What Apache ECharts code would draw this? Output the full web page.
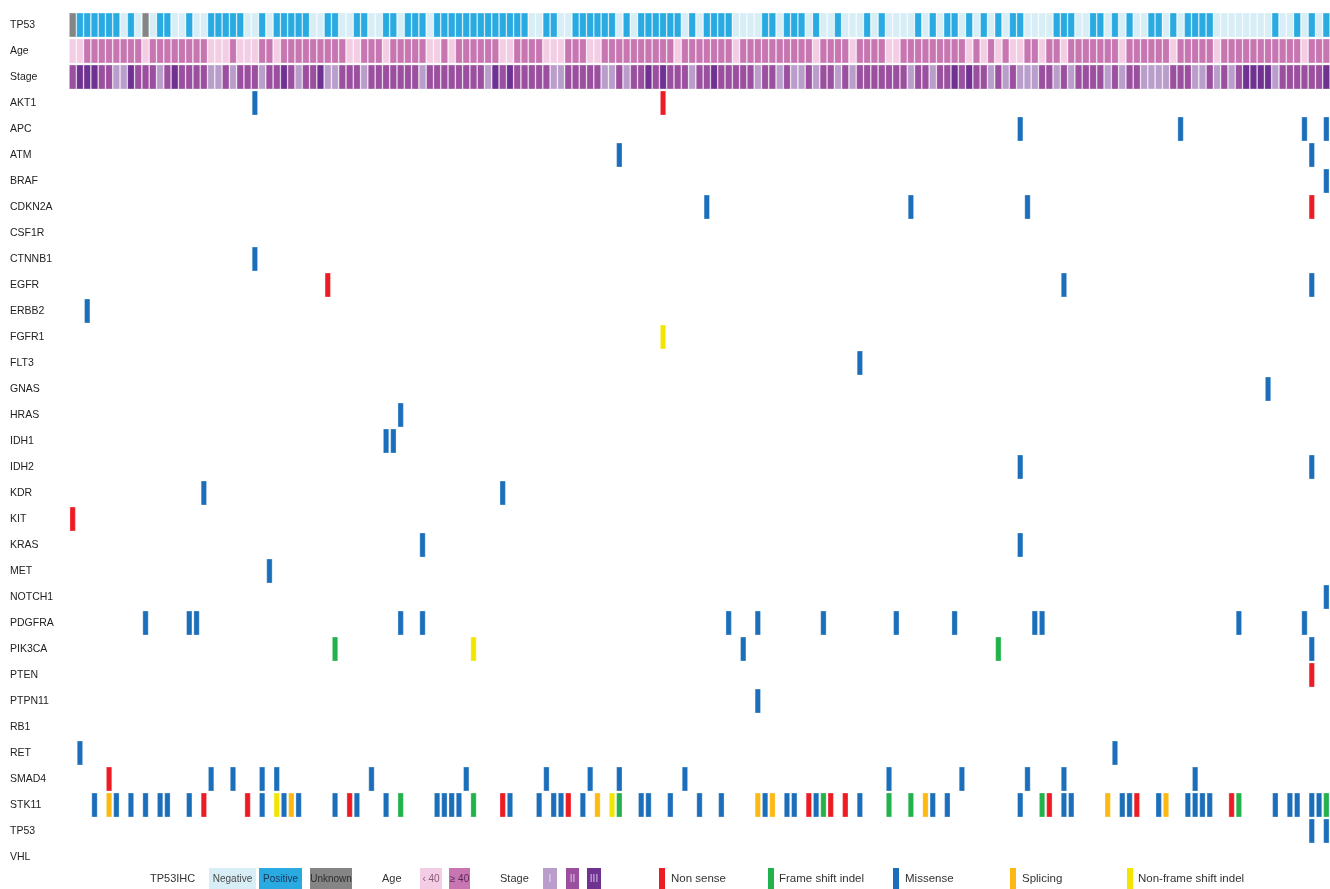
<!DOCTYPE html>
<html><head><meta charset="utf-8">
<script src="https://cdn.jsdelivr.net/npm/echarts@6/dist/echarts.min.js"></script>
<style>html,body{margin:0;padding:0;background:#fff}#c{width:1330px;height:889px}</style>
</head><body><div id="c"></div>
<script>
// ---------- DATA ----------
const rowLabels = ['TP53','Age','Stage','AKT1','APC','ATM','BRAF','CDKN2A','CSF1R','CTNNB1','EGFR','ERBB2','FGFR1','FLT3','GNAS','HRAS','IDH1','IDH2','KDR','KIT','KRAS','MET','NOTCH1','PDGFRA','PIK3CA','PTEN','PTPN11','RB1','RET','SMAD4','STK11','TP53 ','VHL'];
// TP53 IHC: 0 Negative, 1 Positive, 2 Unknown
const tp53ihc = [
2,1,1,1,1,1,1,0,1,0, 2,0,1,1,0,0,1,0,0,1, 1,1,1,1,0,0,1,0,1,1, 1,1,1,0,0,1,1,0,0,1,
1,0,0,1,1,0,1,1,1,0, 1,1,1,1,1,1,1,1,1,1, 1,1,1,0,0,1,1,0,0,1, 1,1,1,1,1,0,1,0,1,1,
1,1,1,1,0,1,0,1,1,1, 1,0,0,0,0,1,1,0,1,1, 1,0,1,0,0,1,0,0,0,1, 0,1,0,0,0,0,1,0,1,0,
1,1,0,1,0,1,0,1,0,1, 1,0,0,0,0,1,1,1,0,0, 1,1,0,1,0,1,0,0,1,1, 0,1,0,1,1,1,1,0,0,0,
0,0,0,0,0,1,0,0,1,0, 1,0,1];
// Age: 0 = <40, 1 = >=40
const age = [
0,0,1,1,1,1,1,1,1,1, 0,1,1,1,1,1,1,1,1,0, 0,0,1,0,0,0,1,1,0,1, 1,1,1,1,1,1,1,1,0,0,
1,1,1,0,1,1,1,1,1,0, 0,1,0,1,1,1,1,1,1,0, 0,1,1,1,1,0,0,0,1,1, 1,0,0,1,1,1,1,1,1,1,
1,1,1,0,1,1,1,1,1,1, 1,0,1,1,1,1,1,1,1,1, 1,1,0,1,1,1,1,0,1,1, 1,1,0,0,1,1,1,1,1,1,
1,1,1,0,1,0,1,0,1,0, 0,1,1,0,1,1,0,1,1,1, 1,1,1,1,0,1,1,1,1,1, 1,0,1,1,1,1,1,0,1,1,
1,1,1,1,1,1,1,1,1,0, 1,1,1];
// Stage: 1 = I, 2 = II, 3 = III
const stage = [
2,3,3,3,2,2,1,1,3,2, 2,2,1,2,3,2,2,2,2,1, 1,2,1,2,2,2,1,2,2,3, 2,1,2,2,3,1,1,2,2,2,
1,2,2,2,2,2,2,2,1,2, 2,2,2,2,2,2,2,1,3,2, 3,2,2,2,2,2,1,1,2,2, 2,2,2,1,1,2,1,2,2,3,
2,3,2,2,2,1,2,2,3,2, 2,2,2,2,1,2,2,1,2,1, 1,2,1,2,2,1,2,1,2,2, 2,2,2,2,2,1,2,2,1,2,
2,3,2,3,2,2,1,2,1,2, 1,1,1,2,2,1,2,1,2,2, 2,2,1,2,1,2,2,1,1,1, 1,2,2,2,1,1,2,1,2,1,
2,3,3,3,3,1,2,2,2,2, 2,2,3];
// Mutation types: N Non sense, F Frame shift indel, M Missense, S Splicing, Y Non-frame shift indel
const mutTypes = ['N','F','M','S','Y'];
const mutNames = ['Non sense','Frame shift indel','Missense','Splicing','Non-frame shift indel'];
// [gene, sample index, type]
const mutations = [
['AKT1',25,'M'],['AKT1',81,'N'],
['APC',130,'M'],['APC',152,'M'],['APC',169,'M'],['APC',172,'M'],
['ATM',75,'M'],['ATM',170,'M'],
['BRAF',172,'M'],
['CDKN2A',87,'M'],['CDKN2A',115,'M'],['CDKN2A',131,'M'],['CDKN2A',170,'N'],
['CTNNB1',25,'M'],
['EGFR',35,'N'],['EGFR',136,'M'],['EGFR',170,'M'],
['ERBB2',2,'M'],
['FGFR1',81,'Y'],
['FLT3',108,'M'],
['GNAS',164,'M'],
['HRAS',45,'M'],
['IDH1',43,'M'],['IDH1',44,'M'],
['IDH2',130,'M'],['IDH2',170,'M'],
['KDR',18,'M'],['KDR',59,'M'],
['KIT',0,'N'],
['KRAS',48,'M'],['KRAS',130,'M'],
['MET',27,'M'],
['NOTCH1',172,'M'],
['PDGFRA',10,'M'],['PDGFRA',16,'M'],['PDGFRA',17,'M'],['PDGFRA',45,'M'],['PDGFRA',48,'M'],['PDGFRA',90,'M'],['PDGFRA',94,'M'],['PDGFRA',103,'M'],['PDGFRA',113,'M'],['PDGFRA',121,'M'],['PDGFRA',132,'M'],['PDGFRA',133,'M'],['PDGFRA',160,'M'],['PDGFRA',169,'M'],
['PIK3CA',36,'F'],['PIK3CA',55,'Y'],['PIK3CA',92,'M'],['PIK3CA',127,'F'],['PIK3CA',170,'M'],
['PTEN',170,'N'],
['PTPN11',94,'M'],
['RET',1,'M'],['RET',143,'M'],
['SMAD4',5,'N'],['SMAD4',19,'M'],['SMAD4',22,'M'],['SMAD4',26,'M'],['SMAD4',28,'M'],['SMAD4',41,'M'],['SMAD4',54,'M'],['SMAD4',65,'M'],['SMAD4',71,'M'],['SMAD4',75,'M'],['SMAD4',84,'M'],['SMAD4',112,'M'],['SMAD4',122,'M'],['SMAD4',131,'M'],['SMAD4',136,'M'],['SMAD4',154,'M'],
['STK11',3,'M'],['STK11',5,'S'],['STK11',6,'M'],['STK11',8,'M'],['STK11',10,'M'],['STK11',12,'M'],['STK11',13,'M'],['STK11',16,'M'],['STK11',18,'N'],['STK11',24,'N'],
['STK11',26,'M'],['STK11',28,'Y'],['STK11',29,'M'],['STK11',30,'S'],['STK11',31,'M'],['STK11',36,'M'],['STK11',38,'N'],['STK11',39,'M'],['STK11',43,'M'],['STK11',45,'F'],
['STK11',50,'M'],['STK11',51,'M'],['STK11',52,'M'],['STK11',53,'M'],['STK11',55,'F'],['STK11',59,'N'],['STK11',60,'M'],['STK11',64,'M'],['STK11',66,'M'],['STK11',67,'M'],
['STK11',68,'N'],['STK11',70,'M'],['STK11',72,'S'],['STK11',74,'Y'],['STK11',75,'F'],['STK11',78,'M'],['STK11',79,'M'],['STK11',82,'M'],['STK11',86,'M'],['STK11',89,'M'],
['STK11',94,'S'],['STK11',95,'M'],['STK11',96,'S'],['STK11',98,'M'],['STK11',99,'M'],['STK11',101,'N'],['STK11',102,'M'],['STK11',103,'F'],['STK11',104,'N'],['STK11',106,'N'],
['STK11',108,'M'],['STK11',112,'F'],['STK11',115,'F'],['STK11',117,'S'],['STK11',118,'M'],['STK11',120,'M'],['STK11',130,'M'],['STK11',133,'F'],['STK11',134,'N'],['STK11',136,'M'],
['STK11',137,'M'],['STK11',142,'S'],['STK11',144,'M'],['STK11',145,'M'],['STK11',146,'N'],['STK11',149,'M'],['STK11',150,'S'],['STK11',153,'M'],['STK11',154,'M'],['STK11',155,'M'],
['STK11',156,'M'],['STK11',159,'N'],['STK11',160,'F'],['STK11',165,'M'],['STK11',167,'M'],['STK11',168,'M'],['STK11',170,'M'],['STK11',171,'M'],['STK11',172,'F'],
['TP53 ',170,'M'],['TP53 ',172,'M']
];

// ---------- STYLE ----------
const tpColors = ['#d7eef6','#29abe2','#858585'];
const ageColors = ['#f3cde3','#c776b1'];
const stageColors = [null,'#b99dca','#9b4f9f','#6f3291'];
const mutColors = {N:'#ed1c24',F:'#22b24c',M:'#1b6fba',S:'#fdb913',Y:'#f2e600'};

const N = tp53ihc.length;
const samples = Array.from({length:N},(_, i)=>'S'+(i+1));

const clinData = [];
for (let i=0;i<N;i++){
  clinData.push({value:[i,0,0], itemStyle:{color:tpColors[tp53ihc[i]]}});
  clinData.push({value:[i,1,0], itemStyle:{color:ageColors[age[i]]}});
  clinData.push({value:[i,2,0], itemStyle:{color:stageColors[stage[i]]}});
}
const mutData = mutations.map(m => ({value:[m[1], rowLabels.indexOf(m[0]), 0], itemStyle:{color:mutColors[m[2]]}}));

function cellRender(params, api){
  const c = api.coord([api.value(0), api.value(1)]);
  const s = api.size([1,1]);
  const w = s[0]-0.7, h = s[1]-2;
  return {type:'rect', shape:{x:c[0]-w/2, y:c[1]-h/2, width:w, height:h},
    style:{fill:api.visual('color'), stroke:'rgba(255,255,255,0.55)', lineWidth:0.6}};
}
function mutRender(params, api){
  const c = api.coord([api.value(0), api.value(1)]);
  const s = api.size([1,1]);
  const w = s[0]*0.74, h = s[1]-2;
  return {type:'rect', shape:{x:c[0]-w/2, y:c[1]-h/2, width:w, height:h},
    style:{fill:api.visual('color'), stroke:'rgba(255,255,255,0.5)', lineWidth:0.6}};
}

const FONT = 'Liberation Sans, Arial, sans-serif';
const LY = 868, LH = 21, LT = 879;
function box(x,w,fill,label,tc){
  return [
    {type:'rect', shape:{x:x,y:LY,width:w,height:LH}, style:{fill:fill}},
    {type:'text', x:x+w/2, y:LT, style:{text:label, fill:tc, font:'10px '+FONT, textAlign:'center', textVerticalAlign:'middle'}}
  ];
}
function label(x,t,fs){
  return {type:'text', x:x, y:LT, style:{text:t, fill:'#333', font:(fs||11)+'px '+FONT, textAlign:'left', textVerticalAlign:'middle'}};
}
const legendEls = [].concat(
  [label(150,'TP53IHC')],
  box(209,47,tpColors[0],'Negative','#4a4a4a'),
  box(259,43,tpColors[1],'Positive','#1c3556'),
  box(310,42,tpColors[2],'Unknown','#2e2e2e'),
  [label(382,'Age')],
  box(420,22,ageColors[0],'‹ 40','#8c5a7c'),
  box(449,21,ageColors[1],'≥ 40','#5d2a55'),
  [label(500,'Stage')],
  box(543,14,stageColors[1],'I','#e8dcef'),
  box(566,13,stageColors[2],'II','#e0c6e2'),
  box(587,14,stageColors[3],'III','#d6c2e3')
);
const mutLegX = [[659,671],[768,779],[893,905],[1010,1022],[1127,1138]];
mutTypes.forEach((t,k)=>{
  legendEls.push({type:'rect', shape:{x:mutLegX[k][0],y:LY,width:6,height:LH}, style:{fill:mutColors[t]}});
  legendEls.push(label(mutLegX[k][1], mutNames[k], 11.5));
});

const chart = echarts.init(document.getElementById('c'));
chart.setOption({
  animation:false,
  backgroundColor:'#fff',
  grid:{left:69, top:12, width:1263, height:858},
  xAxis:{type:'category', data:samples, show:false},
  yAxis:{type:'category', data:rowLabels, inverse:true,
    axisLine:{show:false}, axisTick:{show:false}, splitLine:{show:false},
    axisLabel:{margin:59, align:'left', fontSize:10.5, color:'#222', fontFamily:FONT, padding:[0,0,3,0],
      formatter:v=>v.trim()}},
  series:[
    {type:'custom', renderItem:cellRender, data:clinData, silent:true},
    {type:'custom', renderItem:mutRender, data:mutData, silent:true}
  ],
  graphic:legendEls
});
</script></body></html>
